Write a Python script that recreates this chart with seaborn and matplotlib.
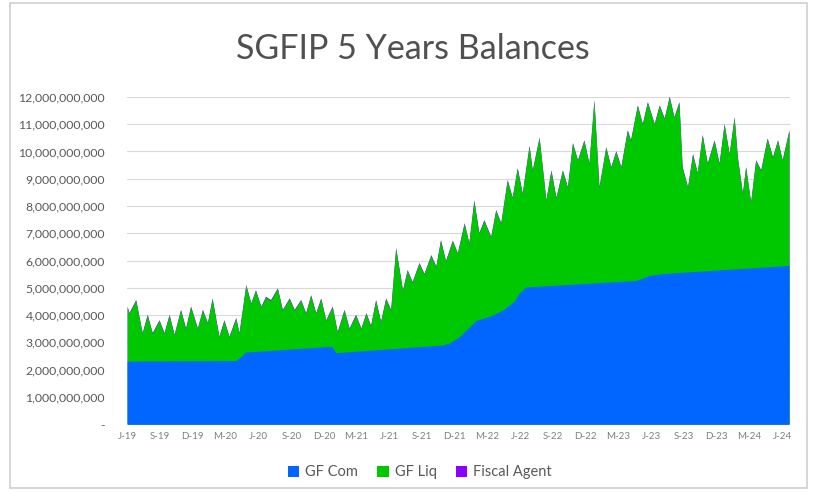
import pandas as pd
import matplotlib
matplotlib.use("Agg")
import matplotlib.pyplot as plt
from matplotlib.ticker import FuncFormatter
from matplotlib.patches import Rectangle, Patch
import seaborn as sns

# top of the GF Liq layer (GF Com + GF Liq), in billions
liq_dates = [
    "2019-06-01", "2019-06-06", "2019-06-25", "2019-07-13", "2019-07-27", "2019-08-10", "2019-08-29",
    "2019-09-12", "2019-09-26", "2019-10-10", "2019-10-28", "2019-11-11", "2019-11-25", "2019-12-14",
    "2019-12-28", "2020-01-11", "2020-01-24", "2020-02-12", "2020-02-26", "2020-03-11", "2020-03-30",
    "2020-04-08", "2020-04-27", "2020-05-11", "2020-05-24", "2020-06-08", "2020-06-21", "2020-07-05",
    "2020-07-24", "2020-08-07", "2020-08-26", "2020-09-09", "2020-09-27", "2020-10-11", "2020-10-25",
    "2020-11-08", "2020-11-22", "2020-12-06", "2020-12-24", "2021-01-07", "2021-01-26", "2021-02-09",
    "2021-02-27", "2021-03-14", "2021-03-28", "2021-04-10", "2021-04-24", "2021-05-08", "2021-05-22",
    "2021-06-05", "2021-06-19", "2021-07-08", "2021-07-21", "2021-08-04", "2021-08-23", "2021-09-06",
    "2021-09-25", "2021-10-09", "2021-10-22", "2021-11-05", "2021-11-24", "2021-12-08", "2021-12-27",
    "2022-01-09", "2022-01-23", "2022-02-06", "2022-02-20", "2022-03-11", "2022-03-25", "2022-04-08",
    "2022-04-26", "2022-05-10", "2022-05-24", "2022-06-07", "2022-06-26", "2022-07-05", "2022-07-24",
    "2022-08-12", "2022-08-26", "2022-09-09", "2022-09-27", "2022-10-11", "2022-10-25", "2022-11-08",
    "2022-11-26", "2022-12-10", "2022-12-24", "2023-01-07", "2023-01-26", "2023-02-09", "2023-02-23",
    "2023-03-09", "2023-03-27", "2023-04-05", "2023-04-24", "2023-05-08", "2023-05-22", "2023-06-10",
    "2023-06-24", "2023-07-08", "2023-07-22", "2023-08-04", "2023-08-18", "2023-08-27", "2023-09-11",
    "2023-09-25", "2023-10-08", "2023-10-22", "2023-11-05", "2023-11-24", "2023-12-08", "2023-12-22",
    "2024-01-05", "2024-01-19", "2024-01-28", "2024-02-11", "2024-02-20", "2024-03-05", "2024-03-19",
    "2024-04-02", "2024-04-20", "2024-05-05", "2024-05-19", "2024-06-01", "2024-06-20",
]
liq_top = [
    4.30, 4.06, 4.54, 3.33, 4.00, 3.33, 3.80,
    3.33, 4.00, 3.27, 4.18, 3.50, 4.30, 3.50,
    4.18, 3.70, 4.60, 3.20, 3.80, 3.20, 3.88,
    3.33, 5.09, 4.42, 4.90, 4.30, 4.66, 4.54,
    4.97, 4.18, 4.60, 4.18, 4.54, 4.06, 4.72,
    4.06, 4.60, 3.80, 4.30, 3.37, 4.18, 3.50,
    4.00, 3.50, 4.06, 3.60, 4.54, 3.75, 4.60,
    4.18, 6.45, 4.90, 5.64, 5.20, 5.90, 5.50,
    6.19, 5.77, 6.74, 5.97, 6.72, 6.26, 7.36,
    6.63, 8.20, 7.00, 7.47, 6.86, 7.84, 7.36,
    8.94, 8.30, 9.38, 8.45, 10.20, 9.30, 10.50,
    8.20, 9.30, 8.30, 9.30, 8.68, 10.30, 9.67,
    10.40, 9.55, 11.87, 8.68, 10.15, 9.42, 10.00,
    9.42, 10.77, 10.40, 11.68, 11.00, 11.80, 11.00,
    11.68, 11.20, 12.00, 11.25, 11.80, 9.42, 8.68,
    9.90, 9.20, 10.60, 9.55, 10.40, 9.55, 11.00,
    9.90, 11.25, 9.78, 8.45, 9.42, 8.13, 9.67,
    9.30, 10.47, 9.78, 10.40, 9.67, 10.77,
]

# GF Com, in billions
com_dates = [
    "2019-06-01", "2020-03-30", "2020-04-11", "2020-04-25", "2020-11-26", "2020-12-23", "2021-01-03",
    "2021-10-27", "2021-11-15", "2021-12-13", "2022-01-29", "2022-03-07", "2022-04-12", "2022-05-15",
    "2022-05-29", "2022-06-18", "2023-04-21", "2023-05-27", "2023-07-02", "2024-06-20",
]
com_values = [
    2.31, 2.33, 2.45, 2.64, 2.83, 2.85, 2.62,
    2.90, 2.97, 3.20, 3.80, 3.95, 4.17, 4.50,
    4.80, 5.03, 5.27, 5.45, 5.52, 5.82,
]

# Fiscal Agent, a thin band on top, in billions
fiscal_agent = 0.03

tick_labels = [
    "J-19", "S-19", "D-19", "M-20", "J-20", "S-20", "D-20", "M-21", "J-21", "S-21", "D-21",
    "M-22", "J-22", "S-22", "D-22", "M-23", "J-23", "S-23", "D-23", "M-24", "J-24",
]
series_names = ["GF Com", "GF Liq", "Fiscal Agent"]
colors = ["#0066FF", "#00C800", "#8B00FF"]

sns.set_style("white")
plt.rcParams["font.family"] = ["Lato", "DejaVu Sans"]

liq = pd.DataFrame({"date": pd.to_datetime(liq_dates), "top": liq_top})
liq["top"] = liq["top"] * 1e9
com = pd.DataFrame({"date": pd.to_datetime(com_dates), "value": com_values})
com["value"] = com["value"] * 1e9

fig = plt.figure(figsize=(8.15, 4.92), dpi=100)
fig.patches.append(Rectangle((0.012, 0.008), 0.978, 0.985, transform=fig.transFigure,
                             fill=False, edgecolor="#D0D0D0", linewidth=1.2))
ax = fig.add_axes([0.156, 0.138, 0.813, 0.665])

ax.fill_between(liq["date"], 0, liq["top"] + fiscal_agent * 1e9, color=colors[2], linewidth=0, zorder=2)
ax.fill_between(liq["date"], 0, liq["top"], color=colors[1], linewidth=0, zorder=3)
ax.fill_between(com["date"], 0, com["value"], color=colors[0], linewidth=0, zorder=4)

ax.set_ylim(0, 12e9)
ax.set_yticks([i * 1e9 for i in range(13)])
ax.yaxis.set_major_formatter(FuncFormatter(lambda v, p: "-" if v == 0 else f"{v:,.0f}"))
ax.yaxis.grid(True, color="#D9D9D9", linewidth=0.8, zorder=0)
ax.set_axisbelow(True)

tick_dates = pd.date_range("2019-06-01", "2024-06-01", freq="3MS")
ax.set_xticks(tick_dates)
ax.set_xticklabels(tick_labels)
ax.set_xlim(pd.Timestamp("2019-06-01"), pd.Timestamp("2024-06-22"))

ax.tick_params(axis="y", labelsize=8.8, labelcolor="#595959", length=0, pad=16)
ax.tick_params(axis="x", labelsize=7, labelcolor="#7F7F7F", length=0, pad=6)
sns.despine(ax=ax, left=True, top=True, right=True, bottom=True)

ax.set_xlabel("")
ax.set_ylabel("")
fig.text(0.507, 0.9, "SGFIP 5 Years Balances", ha="center", va="center",
         fontsize=24.5, color="#505050")

handles = [Patch(facecolor=c, edgecolor="none") for c in colors]
fig.legend(handles, series_names, loc="center", bbox_to_anchor=(0.515, 0.04), ncol=3,
           frameon=False, fontsize=10.5, labelcolor="#595959", handlelength=0.8, handleheight=0.8,
           handletextpad=0.4, columnspacing=1.3)

fig.savefig("out.png", dpi=100)
